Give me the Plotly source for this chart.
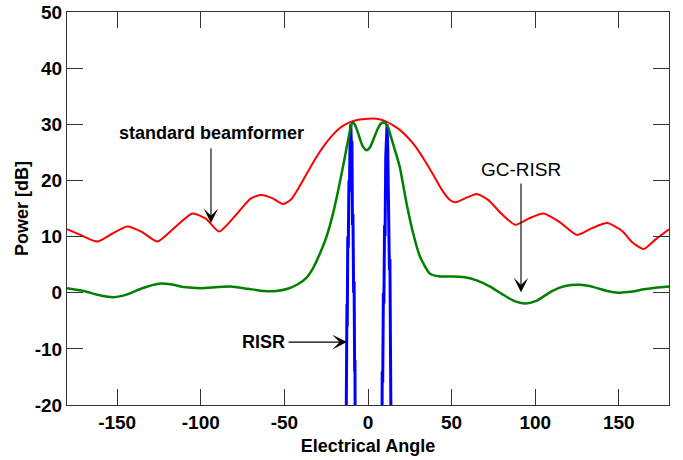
import plotly.graph_objects as go

# ---- data ----
red_angle = [-180, -172, -162, -153, -144, -135, -126, -116, -105, -97, -89, -80, -70, -64, -57, -51,
             -46, -42, -37, -32, -27, -22, -17, -12, -6, 0, 5, 10, 15, 19, 24, 29, 34, 39, 44, 49, 52,
             58, 65, 72, 80, 88, 96, 105, 115, 125, 134, 143, 152, 158, 165, 172, 180]
red_db = [11.3, 10.3, 9.1, 10.5, 11.8, 10.8, 9.1, 11.5, 14.1, 13.2, 10.9, 13.5, 16.8, 17.4, 16.8, 15.8,
          16.6, 18.4, 21.0, 23.6, 25.9, 27.8, 29.3, 30.2, 30.8, 31.0, 31.0, 30.6, 29.8, 29.0, 27.6, 25.8, 23.5,
          21.0, 18.4, 16.5, 16.1, 16.8, 17.6, 16.5, 14.0, 12.1, 13.2, 14.1, 12.5, 10.3, 11.5, 12.4, 11.0,
          9.0, 7.8, 9.5, 11.3]

green_angle = [-180, -170, -160, -152, -144, -135, -125, -118, -110, -100, -90, -82, -72, -62, -55, -48,
               -42, -37, -33, -29, -25, -21, -18, -15, -13, -11, -9.5, -8, -6, -3.5, -1, 1, 3.5, 6,
               8, 10, 12, 14, 16.5, 19, 23, 27, 31, 37, 43, 50, 57, 65, 73, 80, 87, 94, 101, 110,
               118, 127, 135, 143, 150, 158, 165, 172, 180]
green_db = [0.8, 0.3, -0.5, -0.8, -0.3, 0.8, 1.6, 1.5, 1.0, 0.8, 1.0, 1.1, 0.7, 0.3, 0.3, 0.7,
            1.5, 2.6, 4.3, 6.8, 9.8, 14.0, 18.0, 22.4, 25.5, 28.5, 30.3, 30.0, 28.5, 26.3, 25.4, 25.8, 27.5, 29.3,
            30.2, 30.3, 29.4, 27.5, 25.0, 22.4, 16.0, 10.6, 6.5, 3.4, 2.9, 2.9, 2.8, 2.2, 1.1, -0.2, -1.4, -1.9,
            -1.4, 0.3, 1.2, 1.4, 1.0, 0.3, 0.0, 0.2, 0.6, 0.9, 1.1]

blue_angle = [-13.4, -13.1, -12.9, -12.6, -12.4, -12.1, -11.8, -11.4, -11.1, -10.7, -10.3, -9.9, -9.6,
              -9.3, -9.0, -8.6, -8.3, -8.0, -7.8, -7.5,
              8.2, 8.5, 8.8, 9.2, 9.5, 9.9, 10.2, 10.6, 11.0, 11.4, 11.8, 12.1, 12.4, 12.8, 13.1,
              13.5, 13.8, 14.1]
blue_db = [-40, -18, -22, -2, -6, 10, 8, 20, 18, 28, 30, 26, 27, 12, 14, 0, 2, -14, -12, -40,
           -40, -14, -16, 0, -2, 12, 10, 24, 27, 30, 26, 16, 18, 4, 6, -12, -10, -40]

x_ticks = [-150, -100, -50, 0, 50, 100, 150]
y_ticks = [-20, -10, 0, 10, 20, 30, 40, 50]

FONT = "Arial, Liberation Sans, sans-serif"

fig = go.Figure()
fig.add_trace(go.Scatter(x=red_angle, y=red_db, mode="lines", line=dict(color="#ff0000", width=2, shape="spline", smoothing=0.6),
                         name="standard beamformer", showlegend=False))
fig.add_trace(go.Scatter(x=blue_angle, y=blue_db, mode="lines", line=dict(color="#0000ff", width=3),
                         name="RISR", showlegend=False))
fig.add_trace(go.Scatter(x=green_angle, y=green_db, mode="lines", line=dict(color="#008000", width=2.5, shape="spline", smoothing=0.6),
                         name="GC-RISR", showlegend=False))

axis_common = dict(showline=True, linecolor="#333333", linewidth=1, mirror="ticks", ticks="inside",
                   ticklen=16, tickcolor="#333333", tickwidth=1, showgrid=False, zeroline=False,
                   automargin=False,
                   tickfont=dict(family=FONT, size=19, color="black", weight="bold"))

fig.update_xaxes(range=[-180, 180], tickvals=x_ticks, ticktext=[str(v) for v in x_ticks],
                 title=dict(text="Electrical Angle", font=dict(family=FONT, size=18, color="black", weight="bold"), standoff=7),
                 **axis_common)
fig.update_yaxes(range=[-20, 50], tickvals=y_ticks, ticktext=[str(v) for v in y_ticks],
                 title=dict(text="Power [dB]", font=dict(family=FONT, size=18, color="black", weight="bold"), standoff=1),
                 **axis_common)

ann_font = dict(family=FONT, size=18, color="black", weight="bold")
arrow_style = dict(arrowhead=3, arrowsize=2.2, arrowwidth=1.1, arrowcolor="black")
fig.add_annotation(x=-93.6, y=28.4, text="standard beamformer", showarrow=False, font=ann_font)
fig.add_annotation(x=-93.9, y=12.4, ax=-93.9, ay=26.0, axref="x", ayref="y", text="", showarrow=True, **arrow_style)
fig.add_annotation(x=91.5, y=21.9, text="GC-RISR", showarrow=False,
                   font=dict(family=FONT, size=19, color="black"))
fig.add_annotation(x=91.5, y=0.1, ax=91.5, ay=19.7, axref="x", ayref="y", text="", showarrow=True, **arrow_style)
fig.add_annotation(x=-62.2, y=-8.8, text="RISR", showarrow=False, font=ann_font)
fig.add_annotation(x=-12.6, y=-8.8, ax=-48.4, ay=-8.8, axref="x", ayref="y", text="", showarrow=True, **arrow_style)

fig.update_layout(width=683, height=460, margin=dict(l=67, r=14, t=12, b=55),
                  paper_bgcolor="white", plot_bgcolor="white", showlegend=False)

# remove the default 8px page margin so the figure fills the window exactly
fig.write_html("out.html", config={"displayModeBar": False},
               post_script="document.body.style.margin='0';document.body.style.padding='0';")
